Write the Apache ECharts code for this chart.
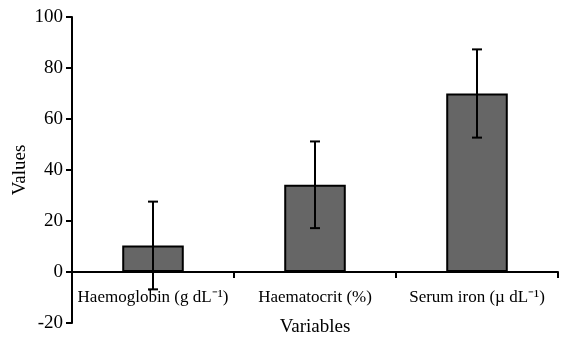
<!DOCTYPE html>
<html>
<head>
<meta charset="utf-8">
<script src="https://cdn.jsdelivr.net/npm/echarts@6/dist/echarts.min.js"></script>
<style>html,body{margin:0;padding:0;background:#fff;}#c{width:561px;height:341px;}</style>
</head>
<body>
<div id="c"></div>
<script>
var categories = ['Haemoglobin (g dL\u207B\u00B9)', 'Haematocrit (%)', 'Serum iron (\u00B5 dL\u207B\u00B9)'];
var means = [10.4, 34.2, 70.0];
var errors = [17.2, 17.0, 17.3];
var yTicks = [-20, 0, 20, 40, 60, 80, 100];

var font = 'Liberation Serif';
var chart = echarts.init(document.getElementById('c'));
chart.setOption({
  animation: false,
  grid: { left: 72, right: 3, top: 17, bottom: 18, containLabel: false, outerBoundsMode: 'none' },
  xAxis: {
    type: 'category',
    data: categories,
    name: 'Variables',
    nameLocation: 'middle',
    nameGap: -5,
    nameMoveOverlap: false,
    nameTextStyle: { fontFamily: font, fontSize: 19, color: '#000' },
    axisLine: { onZero: true, lineStyle: { color: '#000', width: 2 } },
    axisTick: { show: true, length: 6, lineStyle: { color: '#000', width: 2 } },
    axisLabel: { fontFamily: font, fontSize: 17, color: '#000', margin: -34, interval: 0 },
    splitLine: { show: false }
  },
  yAxis: {
    type: 'value',
    min: yTicks[0],
    max: yTicks[yTicks.length - 1],
    interval: 20,
    name: 'Values',
    nameLocation: 'middle',
    nameGap: 42,
    nameMoveOverlap: false,
    nameRotate: 90,
    nameTextStyle: { fontFamily: font, fontSize: 19, color: '#000' },
    axisLine: { show: true, lineStyle: { color: '#000', width: 2 } },
    axisTick: { show: true, length: 6, lineStyle: { color: '#000', width: 2 } },
    axisLabel: { fontFamily: font, fontSize: 19, color: '#000', margin: 9 },
    splitLine: { show: false }
  },
  series: [
    {
      type: 'bar',
      data: means,
      barWidth: '38%',
      itemStyle: { color: '#666666', borderColor: '#000', borderWidth: 2 },
      z: 2
    },
    {
      type: 'custom',
      z: 5,
      data: means.map(function (m, i) { return [i, m - errors[i], m + errors[i]]; }),
      encode: { x: 0, y: [1, 2] },
      renderItem: function (params, api) {
        var x = api.value(0);
        var lo = api.coord([x, api.value(1)]);
        var hi = api.coord([x, api.value(2)]);
        var hw = 5;
        var st = { stroke: '#000', lineWidth: 2 };
        return {
          type: 'group',
          children: [
            { type: 'line', shape: { x1: hi[0], y1: hi[1], x2: lo[0], y2: lo[1] }, style: st },
            { type: 'line', shape: { x1: hi[0] - hw, y1: hi[1], x2: hi[0] + hw, y2: hi[1] }, style: st },
            { type: 'line', shape: { x1: lo[0] - hw, y1: lo[1], x2: lo[0] + hw, y2: lo[1] }, style: st }
          ]
        };
      }
    }
  ]
});
</script>
</body>
</html>
